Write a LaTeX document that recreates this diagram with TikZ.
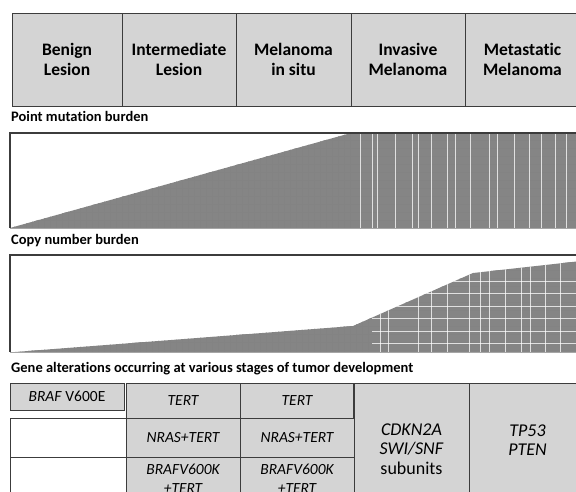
\documentclass[tikz,border=0pt]{standalone}
\usepackage{fontspec}
\setmainfont{Carlito}[Ligatures=CommonOff]
\usetikzlibrary{positioning}
\definecolor{cellgray}{HTML}{D4D4D4}
\definecolor{burden}{HTML}{858585}
\definecolor{rulegray}{HTML}{3C3C3C}
\tikzset{>=latex}

\begin{document}
\begin{tikzpicture}[x=1pt, y=-1pt,
            stage/.style={rectangle, draw=rulegray, fill=cellgray, line width=0.8pt, minimum width=#1, minimum height=93pt, inner sep=0pt, outer sep=0pt, align=center, font=\fontsize{17.5}{20.5}\selectfont\bfseries},
            gene/.style={rectangle, draw=rulegray, fill=cellgray, line width=0.8pt, minimum width=#1, inner sep=0pt, outer sep=0pt, align=center, font=\fontsize{15.5}{19}\selectfont\itshape},
            blank/.style={rectangle, draw=rulegray, fill=white, line width=0.8pt, minimum width=#1, inner sep=0pt, outer sep=0pt},
            heading/.style={anchor=west, inner sep=0pt, font=\fontsize{14.5}{16}\selectfont\bfseries},
            streak/.style={white, line width=0.9pt, opacity=0.75},
            weave/.style={gray!45!burden, line width=0.5pt}
        ]
        \useasboundingbox (0,0) rectangle (576,492);
        \clip (0,0) rectangle (576,492);
        % stages of tumour development
        \node[stage=110pt, anchor=north west] (benign) at (12,13) {Benign\\Lesion};
        \node[stage=114pt, right = 0pt of benign] (intermediate) {Intermediate\\Lesion};
        \node[stage=115pt, right = 0pt of intermediate] (insitu) {Melanoma\\in situ};
        \node[stage=114pt, right = 0pt of insitu] (invasive) {Invasive\\Melanoma};
        \node[stage=115pt, right = 0pt of invasive] (metastatic) {Metastatic\\Melanoma};
        % point mutation burden
        \node[heading] (pmlabel) at (11,116) {Point mutation burden};
        \coordinate (pmcorner) at (10,133);
        \begin{scope}
            \clip (10,228) -- (351,133) -- (590,133) -- (590,228) -- cycle;
            \fill[burden] (10,133) rectangle (590,228);
            \foreach \x in {14,20,...,350} \draw[weave] (\x,133) -- (\x,228);
            \foreach \y in {140,148,...,226} \draw[weave] (10,\y) -- (590,\y);
            \foreach \x in {360,372,377,395,412,418,431,447,455,470,489,497,514,529,541,555,566} \draw[streak] (\x,133) -- (\x,228);
        \end{scope}
        \draw[rulegray, line width=1.1pt] (576,133) -- (pmcorner) -- (10,228);
        \draw[gray!70, line width=0.6pt] (10,228) -- (576,228);
        % copy number burden
        \node[heading] (cnlabel) at (11,241) {Copy number burden};
        \coordinate (cncorner) at (10,255);
        \begin{scope}
            \clip (15,352) -- (353,326) -- (473,273) -- (590,260) -- (590,352) -- cycle;
            \fill[burden] (10,255) rectangle (590,352);
            \foreach \x in {20,26,...,370} \draw[weave] (\x,255) -- (\x,352);
            \foreach \y in {262,270,...,350} \draw[weave] (10,\y) -- (590,\y);
            \foreach \x in {380,388,418,431,447,469,480,489,505,521,530,545,560} \draw[streak] (\x,255) -- (\x,352);
            \foreach \y in {281,293,306,318,331,343} \draw[streak] (372,\y) -- (590,\y);
        \end{scope}
        \draw[rulegray, line width=1.1pt] (576,255) -- (cncorner) -- (10,352);
        \draw[gray!70, line width=0.6pt] (10,352) -- (576,352);
        % gene alterations
        \node[heading] (galabel) at (11,369) {Gene alterations occurring at various stages of tumor development};
        \node[gene=114pt, minimum height=27pt, anchor=north west] (braf) at (10,383) {BRAF \textup{V600E}};
        \node[blank=116pt, minimum height=39pt, anchor=north west] (empty1) at (10,418) {};
        \node[blank=116pt, minimum height=50pt, below = 0pt of empty1] (empty2) {};
        \node[gene=114pt, minimum height=35pt, anchor=north west] (tertA) at (126,383) {TERT};
        \node[gene=114pt, minimum height=35pt, right = 0pt of tertA] (tertB) {TERT};
        \node[gene=114pt, minimum height=39pt, below = 0pt of tertA] (nrasA) {NRAS+TERT};
        \node[gene=114pt, minimum height=39pt, below = 0pt of tertB] (nrasB) {NRAS+TERT};
        \node[gene=114pt, minimum height=43pt, below = 0pt of nrasA] (brafkA) {BRAFV600K\\+TERT};
        \node[gene=114pt, minimum height=43pt, below = 0pt of nrasB] (brafkB) {BRAFV600K\\+TERT};
        \node[gene=115pt, minimum height=132pt, anchor=north west, font=\fontsize{18}{19.5}\selectfont] (cdkn) at (tertB.north east) {\textit{CDKN2A}\\\textit{SWI/SNF}\\subunits};
        \node[gene=117pt, minimum height=114pt, anchor=north west, font=\fontsize{18}{19.5}\selectfont\itshape] (tp53) at (cdkn.north east) {TP53\\PTEN};
        \draw[rulegray, line width=1.4pt] (tertB.north east) -- (tertB.south east);
\end{tikzpicture}
\end{document}
